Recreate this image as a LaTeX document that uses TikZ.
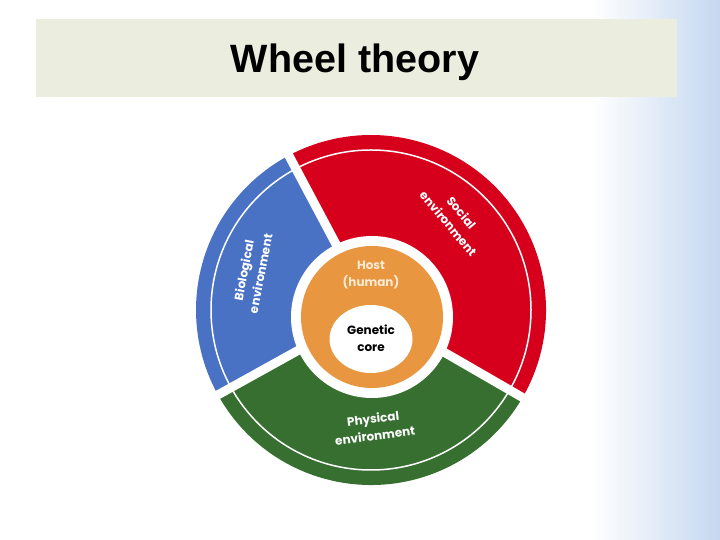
\documentclass[tikz,border=0pt]{standalone}
\usepackage{fontspec}
\setmainfont{Liberation Sans}
\newfontfamily\wheelfont{Poppins}
\usepackage{tikz}
\usetikzlibrary{shapes}
\definecolor{socialred}{RGB}{214,0,28}
\definecolor{bioblue}{RGB}{74,114,196}
\definecolor{physgreen}{RGB}{54,111,48}
\definecolor{hostorange}{RGB}{232,150,64}
\definecolor{hostcream}{RGB}{252,234,210}
\definecolor{titlebg}{RGB}{235,238,223}
\definecolor{slideblue}{RGB}{197,216,240}
\tikzstyle{titlebox}=[rectangle,
	fill=titlebg,
	minimum width=641pt,
	minimum height=78pt]
\tikzstyle{gap}=[white,
	line width=9pt]
\tikzstyle{wheeltext}=[align=center,
	text=white,
	inner sep=0pt,
	font=\wheelfont\bfseries\fontsize{12}{17}\selectfont]

\begin{document}
\begin{tikzpicture}[x=1pt,y=1pt]
	\useasboundingbox (0,0) rectangle (720,540);
	\fill[white] (0,0) rectangle (720,540);
	\shade[left color=white,right color=slideblue] (592,0) rectangle (720,540);
	\node (titlebox) [titlebox] at (356.5,482) {};
	\node (title) [anchor=base, font=\fontsize{39.5}{47}\selectfont\bfseries] at (355,467) {Wheel theory};

	\coordinate (hub) at (371,230);
	\fill[socialred] (hub) -- ++(-30:175) arc[start angle=-30,end angle=118,radius=175] -- cycle;
	\fill[bioblue] (hub) -- ++(118:175) arc[start angle=118,end angle=209,radius=175] -- cycle;
	\fill[physgreen] (hub) -- ++(209:175) arc[start angle=209,end angle=330,radius=175] -- cycle;
	\draw[white, line width=1.5pt] (hub) circle[radius=160];
	\foreach \a in {118,209,330}
		\draw[gap] (hub) -- ++(\a:180);

	\node (ring) [circle, fill=white, minimum size=162pt, inner sep=0pt] at (372,223) {};
	\node (host) [circle, fill=hostorange, minimum size=142pt, inner sep=0pt] at (372,223) {};
	\node (core) [ellipse, fill=white, minimum width=83pt, minimum height=68pt, inner sep=0pt] at (371,201) {};

	\node (hostlabel) [wheeltext, text=hostcream] at (371,265) {Host\\(human)};
	\node (corelabel) [wheeltext, text=black] at (371,201.5) {Genetic\\core};
	\node (social) [wheeltext, rotate=-50] at (455,322) {Social\\environment};
	\node (biological) [wheeltext, rotate=79] at (252,268) {Biological\\environment};
	\node (physical) [wheeltext, rotate=7] at (374,113) {Physical\\environment};
\end{tikzpicture}
\end{document}
